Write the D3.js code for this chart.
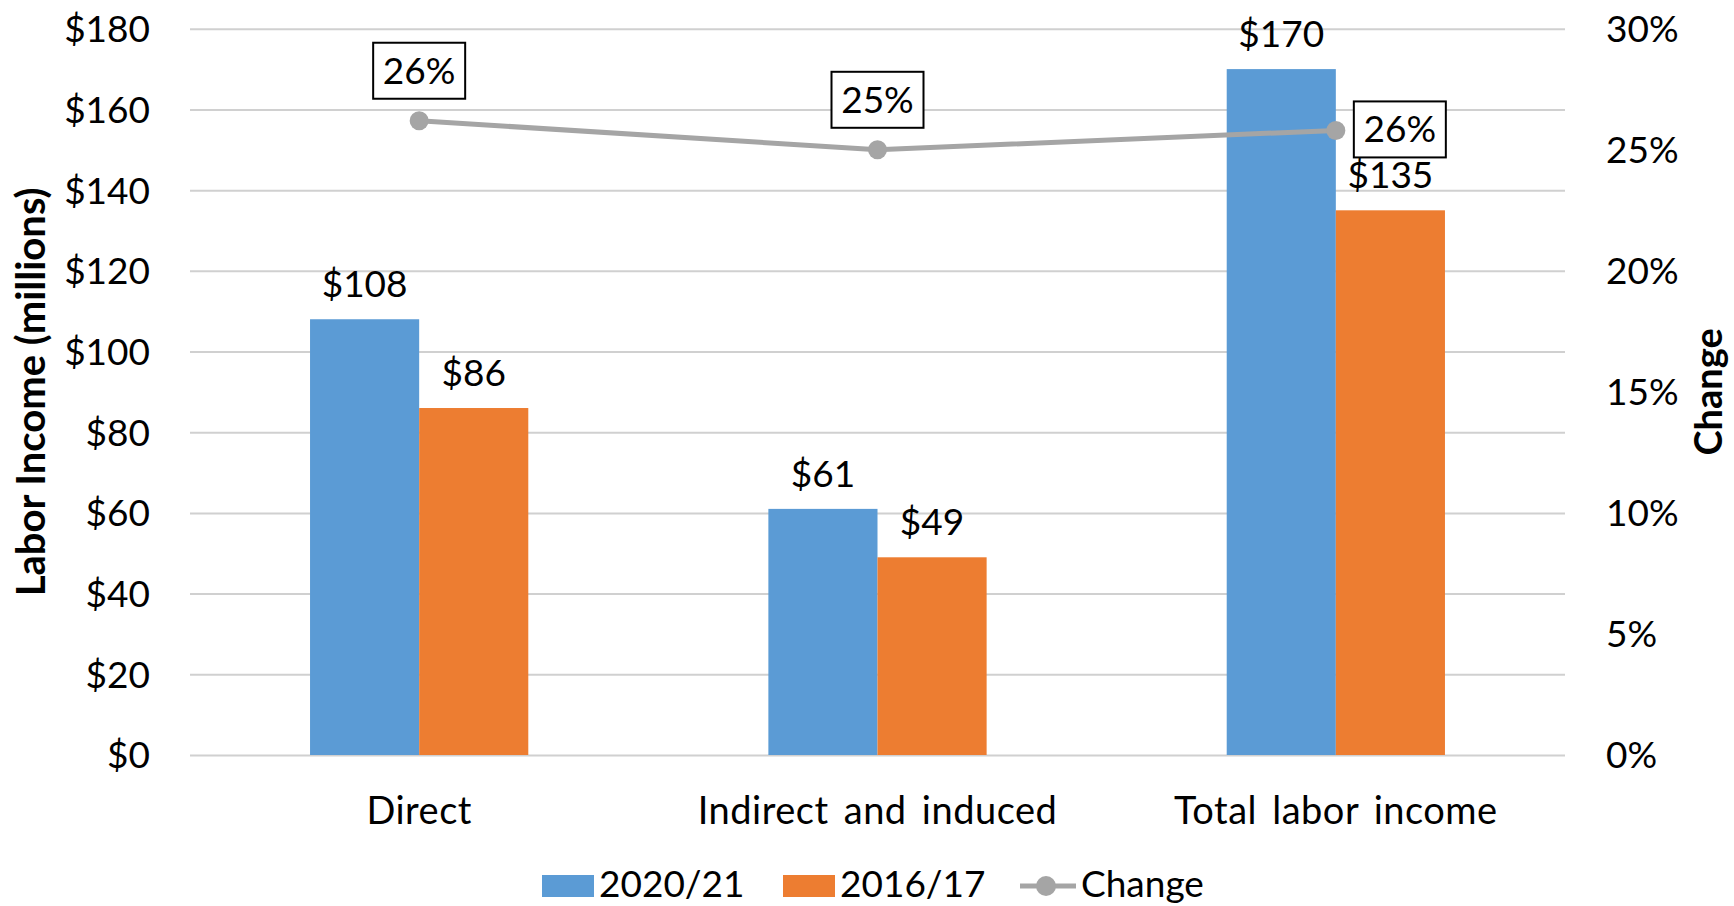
<!DOCTYPE html>
<html>
<head>
<meta charset="utf-8">
<script src="https://cdn.jsdelivr.net/npm/d3@7"></script>
<style>
  html, body { margin: 0; padding: 0; background: #fff; }
  svg { display: block; font-family: Lato, "Open Sans", sans-serif; }
</style>
</head>
<body>
<svg id="chart" width="1734" height="906"></svg>
<script>
// ---- data ----
const categories = ["Direct", "Indirect and induced", "Total labor income"];
const seriesNames = ["2020/21", "2016/17"];
const values2020 = [108, 61, 170];
const values2016 = [86, 49, 135];
const changeName = "Change";
const changeValues = [0.262, 0.250, 0.258];
const changeLabels = ["26%", "25%", "26%"];
const leftTicks = [0, 20, 40, 60, 80, 100, 120, 140, 160, 180];
const rightTicks = [0, 0.05, 0.10, 0.15, 0.20, 0.25, 0.30];
const leftTitle = "Labor Income (millions)";
const rightTitle = "Change";

// ---- layout ----
const W = 1734, H = 906;
const plot = { left: 190, right: 1565, top: 28.75, bottom: 755 };
const colors = { "2020/21": "#5B9BD5", "2016/17": "#ED7D31", line: "#A5A5A5" };
const fontSize = 37;

const svg = d3.select("#chart");

const x = d3.scaleBand().domain(categories).range([plot.left, plot.right]).paddingInner(0).paddingOuter(0);
const xSub = d3.scaleBand().domain(seriesNames).range([0, x.bandwidth()]).paddingInner(0).paddingOuter(1.1);
const yL = d3.scaleLinear().domain([0, 180]).range([plot.bottom, plot.top]);
const yR = d3.scaleLinear().domain([0, 0.30]).range([plot.bottom, plot.top]);

// gridlines
const grid = svg.append("g").attr("transform", `translate(${plot.left},0)`)
  .call(d3.axisLeft(yL).tickValues(leftTicks).tickSize(-(plot.right - plot.left)).tickFormat(""));
grid.select(".domain").remove();
grid.selectAll("line").attr("stroke", "#d0d0d0").attr("stroke-width", 2);

// left axis labels
const axL = svg.append("g").attr("transform", `translate(150,0)`)
  .call(d3.axisLeft(yL).tickValues(leftTicks).tickSize(0).tickPadding(0).tickFormat(d => "$" + d));
axL.select(".domain").remove();
axL.selectAll("text").attr("font-size", fontSize).attr("fill", "#000").attr("font-family", "Lato").attr("dy", "0.35em");

// right axis labels
const axR = svg.append("g").attr("transform", `translate(1606,0)`)
  .call(d3.axisRight(yR).tickValues(rightTicks).tickSize(0).tickPadding(0).tickFormat(d3.format(".0%")));
axR.select(".domain").remove();
axR.selectAll("text").attr("font-size", fontSize).attr("fill", "#000").attr("font-family", "Lato").attr("dy", "0.35em");

// category labels
const axB = svg.append("g").attr("transform", `translate(0,${plot.bottom})`)
  .call(d3.axisBottom(x).tickSize(0).tickPadding(0));
axB.select(".domain").remove();
axB.selectAll("text").attr("font-size", 38).attr("fill", "#000").attr("font-family", "Lato")
  .attr("letter-spacing", 0.5).attr("word-spacing", 5)
  .attr("y", 69).attr("dy", 0);

// bars
const rows = categories.map((c, i) => ({ cat: c, vals: [
  { s: seriesNames[0], v: values2020[i] },
  { s: seriesNames[1], v: values2016[i] }
]}));
const groups = svg.append("g").selectAll("g").data(rows).join("g")
  .attr("transform", d => `translate(${x(d.cat)},0)`);
groups.selectAll("rect").data(d => d.vals).join("rect")
  .attr("x", d => xSub(d.s)).attr("width", xSub.bandwidth())
  .attr("y", d => yL(d.v)).attr("height", d => yL(0) - yL(d.v))
  .attr("fill", d => colors[d.s]);
groups.selectAll("text").data(d => d.vals).join("text")
  .attr("x", d => xSub(d.s) + xSub.bandwidth() / 2)
  .attr("y", d => yL(d.v) - 22)
  .attr("text-anchor", "middle").attr("font-size", fontSize).attr("fill", "#000")
  .text(d => "$" + d.v);

// line
const pts = categories.map((c, i) => ({ x: x(c) + x.bandwidth() / 2, y: yR(changeValues[i]), label: changeLabels[i], i }));
svg.append("path").datum(pts)
  .attr("d", d3.line().x(d => d.x).y(d => d.y))
  .attr("fill", "none").attr("stroke", colors.line).attr("stroke-width", 5).attr("stroke-linejoin", "round");
svg.append("g").selectAll("circle").data(pts).join("circle")
  .attr("cx", d => d.x).attr("cy", d => d.y).attr("r", 9.5).attr("fill", colors.line);

// change labels with boxes
const boxW = 92, boxH = 56;
const lab = svg.append("g").selectAll("g").data(pts).join("g")
  .attr("transform", d => {
    if (d.i === 2) return `translate(${d.x + 18},${d.y - boxH / 2 - 1})`;
    return `translate(${d.x - boxW / 2},${d.y - 22 - boxH})`;
  });
lab.append("rect").attr("width", boxW).attr("height", boxH).attr("fill", "#fff").attr("stroke", "#000").attr("stroke-width", 2);
lab.append("text").attr("x", boxW / 2).attr("y", boxH / 2).attr("dy", "0.35em")
  .attr("text-anchor", "middle").attr("font-size", fontSize).attr("fill", "#000").text(d => d.label);

// axis titles
const midY = (plot.top + plot.bottom) / 2;
svg.append("text").attr("transform", `translate(45,${midY}) rotate(-90)`)
  .attr("text-anchor", "middle").attr("font-size", 40).attr("font-weight", "bold").attr("fill", "#000").text(leftTitle);
svg.append("text").attr("transform", `translate(1722,${midY}) rotate(-90)`)
  .attr("text-anchor", "middle").attr("font-size", 38).attr("font-weight", "bold").attr("fill", "#000").text(rightTitle);

// legend
const legY = 897;
const leg = svg.append("g");
const legItems = [
  { type: "rect", name: seriesNames[0], color: colors["2020/21"], x: 542 },
  { type: "rect", name: seriesNames[1], color: colors["2016/17"], x: 783 },
  { type: "line", name: changeName, color: colors.line, x: 1020 }
];
legItems.forEach(it => {
  if (it.type === "rect") {
    leg.append("rect").attr("x", it.x).attr("y", legY - 22).attr("width", 52).attr("height", 22).attr("fill", it.color);
    leg.append("text").attr("x", it.x + 57).attr("y", legY).attr("font-size", fontSize).attr("fill", "#000").text(it.name);
  } else {
    leg.append("line").attr("x1", it.x).attr("x2", it.x + 56).attr("y1", legY - 11).attr("y2", legY - 11)
      .attr("stroke", it.color).attr("stroke-width", 5);
    leg.append("circle").attr("cx", it.x + 26).attr("cy", legY - 11).attr("r", 10).attr("fill", it.color);
    leg.append("text").attr("x", it.x + 61).attr("y", legY).attr("font-size", fontSize).attr("fill", "#000").text(it.name);
  }
});
</script>
</body>
</html>
